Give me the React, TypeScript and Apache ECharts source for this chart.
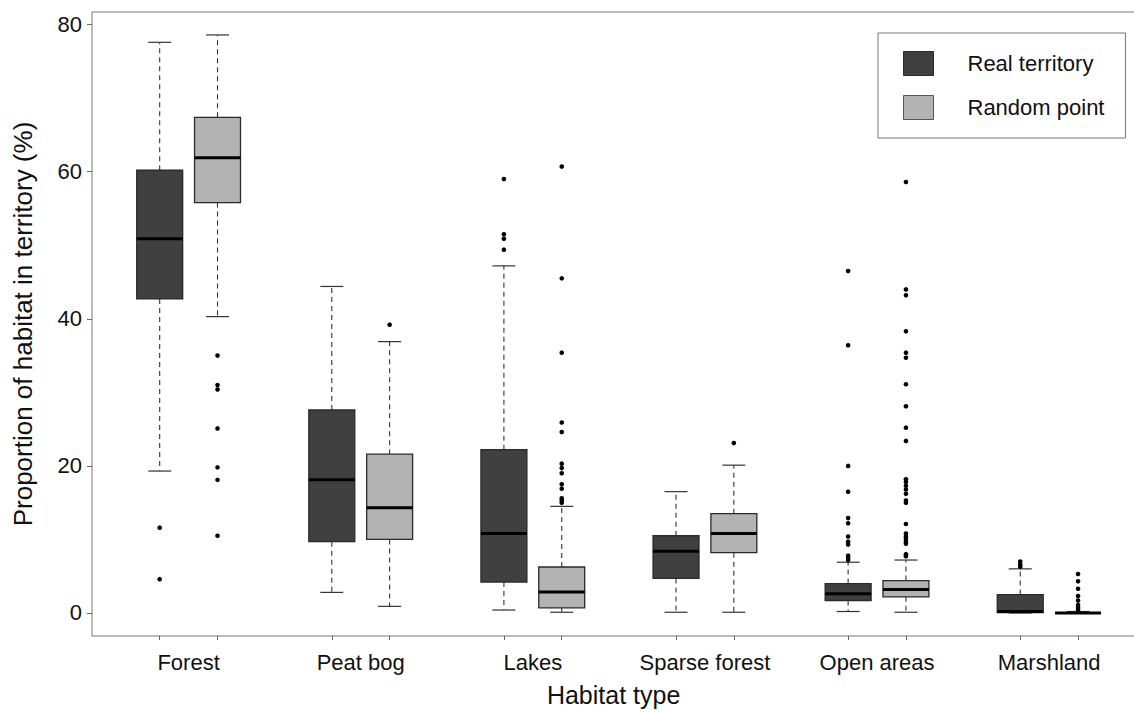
import React, { useEffect, useRef } from "react";
import * as echarts from "echarts";

const categories = ["Forest", "Peat bog", "Lakes", "Sparse forest", "Open areas", "Marshland"];
const seriesNames = ["Real territory", "Random point"];

// [lower whisker, Q1, median, Q3, upper whisker]
const realStats = [
  [19.3, 42.7, 50.9, 60.2, 77.6],
  [2.8, 9.7, 18.1, 27.6, 44.4],
  [0.4, 4.2, 10.8, 22.2, 47.2],
  [0.1, 4.7, 8.4, 10.5, 16.5],
  [0.2, 1.7, 2.6, 4.0, 6.9],
  [0.0, 0.05, 0.2, 2.5, 6.0],
];
const randomStats = [
  [40.3, 55.8, 61.9, 67.4, 78.6],
  [0.9, 10.0, 14.3, 21.6, 36.9],
  [0.1, 0.7, 2.85, 6.25, 14.5],
  [0.1, 8.2, 10.8, 13.5, 20.1],
  [0.1, 2.2, 3.2, 4.4, 7.2],
  [0.0, 0.0, 0.0, 0.0, 0.2],
];

const realOutliers = [
  [11.6, 4.6],
  [],
  [59.0, 51.5, 50.9, 49.4],
  [],
  [46.5, 36.4, 20.0, 16.5, 12.9, 12.2, 10.4, 9.7, 9.3, 7.8, 7.5, 7.2],
  [7.0, 6.6, 6.3],
];
const randomOutliers = [
  [35.0, 31.0, 30.4, 25.1, 19.8, 18.1, 10.5],
  [39.2],
  [60.7, 45.5, 35.4, 25.9, 24.6, 20.3, 19.7, 19.0, 17.5, 16.9, 15.6, 15.3, 15.0],
  [23.1],
  [58.6, 44.0, 43.2, 38.3, 35.4, 34.7, 31.1, 28.1, 25.2, 23.4, 18.2, 17.8, 17.3, 16.8, 16.2, 15.3, 15.0, 12.1, 10.8, 10.4, 10.1, 9.7, 9.4, 8.0, 7.7],
  [5.3, 4.3, 3.3, 2.3, 1.7, 1.1, 0.7, 0.4],
];

const yTicks = [0, 20, 40, 60, 80];

const OFFSET = 0.168;
const BOX_W = 0.267;
const DARK = "#404040";
const LIGHT = "#b3b3b3";
const FONT = "'Liberation Sans', Arial, sans-serif";

function boxRenderer(offset: number, fill: string) {
  return (params: any, api: any) => {
    const i = api.value(0) + offset;
    const lo = api.coord([i, api.value(1)]);
    const q1 = api.coord([i, api.value(2)]);
    const med = api.coord([i, api.value(3)]);
    const q3 = api.coord([i, api.value(4)]);
    const hi = api.coord([i, api.value(5)]);
    const cx = lo[0];
    const bw = api.size([BOX_W, 0])[0];
    const cw = bw / 2;
    const wStyle = { stroke: "#333", lineWidth: 1.1, lineDash: [5, 4] };
    const cStyle = { stroke: "#333", lineWidth: 1.2 };
    return {
      type: "group",
      children: [
        { type: "line", shape: { x1: cx, y1: q3[1], x2: cx, y2: hi[1] }, style: wStyle },
        { type: "line", shape: { x1: cx, y1: q1[1], x2: cx, y2: lo[1] }, style: wStyle },
        { type: "line", shape: { x1: cx - cw / 2, y1: hi[1], x2: cx + cw / 2, y2: hi[1] }, style: cStyle },
        { type: "line", shape: { x1: cx - cw / 2, y1: lo[1], x2: cx + cw / 2, y2: lo[1] }, style: cStyle },
        {
          type: "rect",
          shape: { x: cx - bw / 2, y: q3[1], width: bw, height: q1[1] - q3[1] },
          style: { fill, stroke: "#2a2a2a", lineWidth: 1.3 },
        },
        { type: "line", shape: { x1: cx - bw / 2, y1: med[1], x2: cx + bw / 2, y2: med[1] }, style: { stroke: "#000", lineWidth: 3 } },
      ],
    };
  };
}

function dotRenderer(offset: number) {
  return (params: any, api: any) => {
    const p = api.coord([api.value(0) + offset, api.value(1)]);
    return { type: "circle", shape: { cx: p[0], cy: p[1], r: 2.3 }, style: { fill: "#000" } };
  };
}

export default function App() {
  const ref = useRef<HTMLDivElement>(null);
  useEffect(() => {
    if (!ref.current) return;
    const chart = echarts.init(ref.current, undefined, { renderer: "svg" });
    const boxData = (stats: number[][]) => stats.map((s, i) => [i, ...s]);
    const dotData = (outs: number[][]) => {
      const r: number[][] = [];
      outs.forEach((arr, i) => arr.forEach((v) => r.push([i, v])));
      return r;
    };
    const tickVals: number[] = [];
    categories.forEach((_, i) => {
      tickVals.push(i - OFFSET, i + OFFSET);
    });
    chart.setOption({
      animation: false,
      textStyle: { fontFamily: FONT },
      grid: {
        left: 92,
        top: 12,
        width: 1043.2,
        height: 624,
        outerBoundsMode: "none",
        containLabel: false,
        show: true,
        borderColor: "#777",
        borderWidth: 1,
        backgroundColor: "transparent",
      },
      legend: {
        left: 878,
        top: 33,
        orient: "vertical",
        padding: [18, 21, 18, 25],
        itemWidth: 30,
        itemHeight: 24,
        itemGap: 19,
        borderColor: "#777",
        borderWidth: 1,
        selectedMode: false,
        textStyle: { fontSize: 22, color: "#111", fontFamily: FONT, padding: [0, 0, 0, 29] },
        data: [
          { name: seriesNames[0], icon: "rect", itemStyle: { color: DARK, borderColor: "#2a2a2a", borderWidth: 1 } },
          { name: seriesNames[1], icon: "rect", itemStyle: { color: LIGHT, borderColor: "#555", borderWidth: 1 } },
        ],
      },
      xAxis: {
        type: "value",
        min: -0.5613,
        max: 5.5,
        name: "Habitat type",
        nameLocation: "middle",
        nameGap: 46,
        nameTextStyle: { fontSize: 25, color: "#111", fontFamily: FONT, lineHeight: 26 },
        axisLine: { show: false, onZero: false },
        splitLine: { show: false },
        axisTick: { show: true, length: 4, lineStyle: { color: "#666" }, customValues: tickVals },
        axisLabel: {
          fontSize: 22,
          color: "#111",
          margin: 15,
          customValues: categories.map((_, i) => i),
          formatter: (v: number) => categories[Math.round(v)] ?? "",
        },
      },
      yAxis: {
        type: "value",
        min: -3.13,
        max: 81.72,
        name: "Proportion of habitat in territory (%)",
        nameLocation: "middle",
        nameGap: 56,
        nameTextStyle: { fontSize: 26, color: "#111", fontFamily: FONT },
        axisLine: { show: false, onZero: false },
        splitLine: { show: false },
        axisTick: { show: true, length: 5, lineStyle: { color: "#666" }, customValues: yTicks },
        axisLabel: { fontSize: 22, color: "#111", margin: 10, customValues: yTicks },
      },
      series: [
        {
          name: seriesNames[0],
          type: "custom",
          renderItem: boxRenderer(-OFFSET, DARK),
          itemStyle: { color: DARK },
          encode: { x: 0, y: [1, 2, 3, 4, 5] },
          data: boxData(realStats),
          clip: false,
        },
        {
          name: seriesNames[1],
          type: "custom",
          renderItem: boxRenderer(OFFSET, LIGHT),
          itemStyle: { color: LIGHT },
          encode: { x: 0, y: [1, 2, 3, 4, 5] },
          data: boxData(randomStats),
          clip: false,
        },
        {
          name: "Real outliers",
          type: "custom",
          renderItem: dotRenderer(-OFFSET),
          encode: { x: 0, y: 1 },
          data: dotData(realOutliers),
        },
        {
          name: "Random outliers",
          type: "custom",
          renderItem: dotRenderer(OFFSET),
          encode: { x: 0, y: 1 },
          data: dotData(randomOutliers),
        },
      ],
    });
    return () => chart.dispose();
  }, []);
  return <div ref={ref} style={{ position: "absolute", left: 0, top: 0, width: 1134, height: 712 }} />;
}
